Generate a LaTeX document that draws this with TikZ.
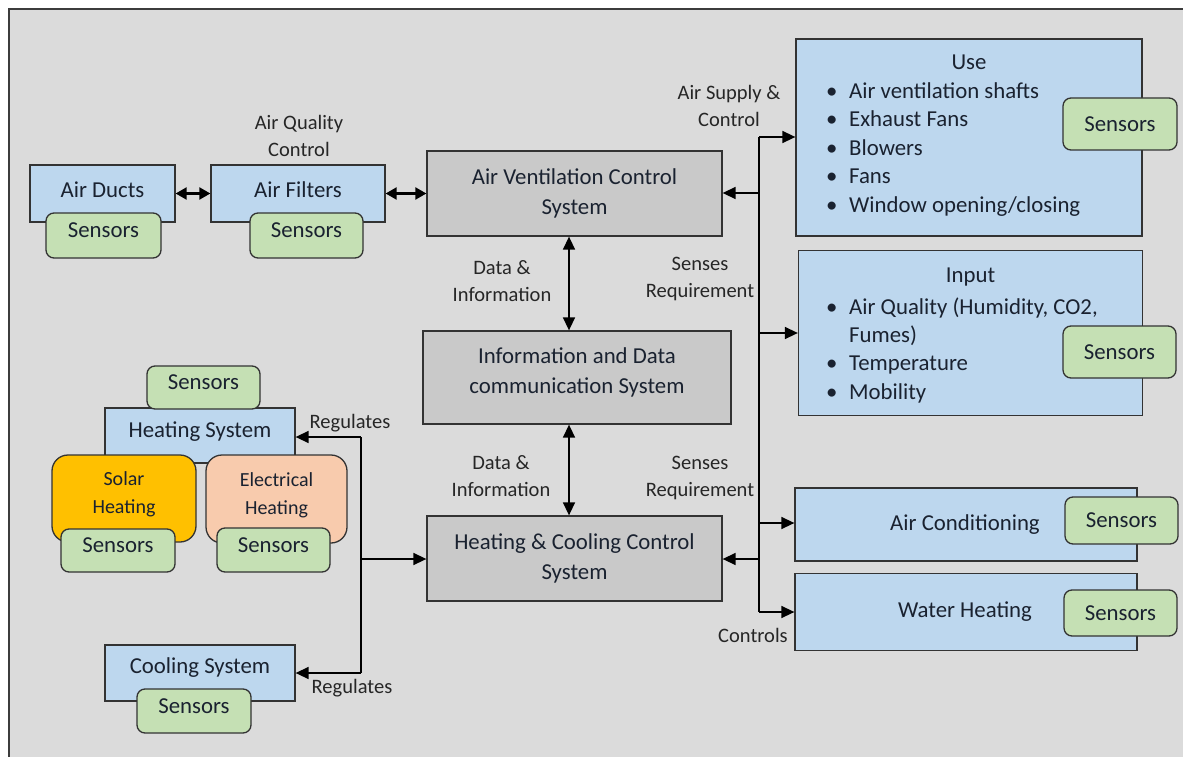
\documentclass[tikz,border=0pt]{standalone}
\usepackage{fontspec}
\setmainfont{Carlito}
\usetikzlibrary{arrows.meta}
\definecolor{bgC}{HTML}{DBDBDB}
\definecolor{frameC}{HTML}{3C3C3C}
\definecolor{lineC}{HTML}{333333}
\definecolor{blueC}{HTML}{BDD7EE}
\definecolor{grayC}{HTML}{C9C9C9}
\definecolor{greenC}{HTML}{C5E0B4}
\definecolor{solarC}{HTML}{FFC000}
\definecolor{elecC}{HTML}{F8CBAD}
\definecolor{txtC}{HTML}{1A2230}
\definecolor{lblC}{HTML}{262626}
\begin{document}
\begin{tikzpicture}[x=1pt,y=-1pt,
  base/.style={draw=lineC, line width=1.3pt, inner sep=0pt, align=center, text=txtC, font=\fontsize{22.8}{30}\selectfont},
  bluebox/.style={base, fill=blueC},
  graybox/.style={base, fill=grayC},
  sens/.style={base, fill=greenC, rounded corners=8pt},
  sensup/.style={sens, text depth=10pt},
  heatbox/.style={base, rounded corners=16pt, font=\fontsize{20}{28}\selectfont},
  txt/.style={inner sep=0pt, align=center, text=txtC, font=\fontsize{22.8}{30}\selectfont},
  bl/.style={inner sep=0pt, anchor=west, text=txtC, font=\fontsize{22.8}{30}\selectfont, text height=15pt, text depth=5pt},
  lbl/.style={inner sep=0pt, align=center, text=lblC, font=\fontsize{20.5}{27}\selectfont},
  conn/.style={line width=1.5pt, draw=black},
  tip/.style={conn, -{Triangle[length=13pt,width=12pt]}},
  dtip/.style={conn, line width=2.2pt, {Triangle[length=11pt,width=12pt]}-{Triangle[length=11pt,width=12pt]}},
  vtip/.style={conn, {Triangle[length=13pt,width=12pt]}-{Triangle[length=13pt,width=12pt]}}
]
\useasboundingbox (0,0) rectangle (1183,757);
\clip (0,0) rectangle (1183,757);
\fill[white] (0,0) rectangle (1183,757);
\draw[draw=frameC, line width=1.3pt, fill=bgC] (9,9) rectangle (1200,780);

% top-left chain
\node[bluebox, minimum width=145pt, minimum height=57pt] (ducts) at (102.5,193.5) {};
\node[txt] (ductsT) at (102.5,190) {Air Ducts};
\node[sensup, minimum width=115pt, minimum height=45pt] (sd) at (103.5,235.5) {Sensors};
\node[bluebox, minimum width=174pt, minimum height=57pt] (filters) at (298,193.5) {};
\node[txt] (filtersT) at (298,190) {Air Filters};
\node[sensup, minimum width=113pt, minimum height=45pt] (sf) at (306.5,235.5) {Sensors};
\node[lbl] (aqc) at (299,136) {Air Quality\\Control};

% central column
\node[graybox, minimum width=295pt, minimum height=85pt] (avcs) at (574.5,193.5) {Air Ventilation Control\\System};
\node[graybox, minimum width=308pt, minimum height=93pt] (idcs) at (577,377.5) {};
\node[txt] (idcsT) at (577,372) {Information and Data\\communication System};
\node[graybox, minimum width=295pt, minimum height=85pt] (hccs) at (574.5,558.5) {Heating \& Cooling Control\\System};

% right column
\node[bluebox, minimum width=346pt, minimum height=197pt] (use) at (969,137.5) {};
\node[txt] (useT) at (969,62) {Use};
\node[bl] (u1) at (826,94) {\makebox[23pt][l]{•}Air ventilation shafts};
\node[bl] (u2) at (826,122) {\makebox[23pt][l]{•}Exhaust Fans};
\node[bl] (u3) at (826,150) {\makebox[23pt][l]{•}Blowers};
\node[bl] (u4) at (826,178) {\makebox[23pt][l]{•}Fans};
\node[bl] (u5) at (826,207) {\makebox[23pt][l]{•}Window opening/closing};
\node[sens, minimum width=114pt, minimum height=52pt] (su) at (1120,124) {Sensors};

\node[bluebox, minimum width=344pt, minimum height=165pt] (input) at (970.5,333) {};
\node[txt] (inputT) at (970.5,277) {Input};
\node[bl] (i1) at (826,309) {\makebox[23pt][l]{•}Air Quality (Humidity, CO2,};
\node[bl] (i2) at (826,337) {\makebox[23pt][l]{}Fumes)};
\node[bl] (i3) at (826,365) {\makebox[23pt][l]{•}Temperature};
\node[bl] (i4) at (826,394) {\makebox[23pt][l]{•}Mobility};
\node[sens, minimum width=113pt, minimum height=52pt] (si) at (1119.5,352) {Sensors};

\node[bluebox, minimum width=342pt, minimum height=73pt] (ac) at (966,524.5) {};
\node[txt] (acT) at (965,525) {Air Conditioning};
\node[sens, minimum width=113pt, minimum height=47pt] (sac) at (1121.5,520.5) {Sensors};
\node[bluebox, minimum width=342pt, minimum height=77pt] (wh) at (966,612) {};
\node[txt] (whT) at (965,612) {Water Heating};
\node[sens, minimum width=113pt, minimum height=46pt] (swh) at (1120.5,613) {Sensors};

% heating / cooling
\node[bluebox, minimum width=190pt, minimum height=55pt] (heat) at (200,435.5) {};
\node[txt] (heatT) at (200,432) {Heating System};
\node[sensup, minimum width=113pt, minimum height=43pt] (sh) at (203.5,387.5) {Sensors};
\node[heatbox, fill=solarC, minimum width=144pt, minimum height=87pt] (solar) at (124,498.5) {};
\node[txt, font=\fontsize{20}{28}\selectfont] (solarT) at (124,494) {Solar\\Heating};
\node[heatbox, fill=elecC, minimum width=141pt, minimum height=88pt] (elec) at (276.5,499) {};
\node[txt, font=\fontsize{20}{28}\selectfont] (elecT) at (276.5,495) {Electrical\\Heating};
\node[sensup, minimum width=114pt, minimum height=43pt] (ss) at (118,550.5) {Sensors};
\node[sensup, minimum width=113pt, minimum height=44pt] (se) at (273.5,550) {Sensors};
\node[bluebox, minimum width=190pt, minimum height=56pt] (cool) at (200,673) {};
\node[txt] (coolT) at (200,668) {Cooling System};
\node[sensup, minimum width=114pt, minimum height=44pt] (sc) at (194,711) {Sensors};

% labels
\node[lbl] (asc) at (729,106) {Air Supply \&\\Control};
\node[lbl] (di1) at (502,281) {Data \&\\Information};
\node[lbl] (di2) at (501,476) {Data \&\\Information};
\node[lbl] (sr1) at (700,279) {Senses\\Requirement};
\node[lbl] (sr2) at (700,478) {Senses\\Requirement};
\node[lbl] (reg1) at (350,423) {Regulates};
\node[lbl] (reg2) at (352,688) {Regulates};
\node[lbl] (ctl) at (753,635) {Controls};

% connectors: left chain
\draw[dtip] (ducts.east) -- (filters.west);
\draw[dtip] (filters.east) -- (avcs.west);

% central vertical
\coordinate (vx) at (569,0);
\draw[vtip] (vx |- avcs.south) -- (vx |- idcs.north);
\draw[vtip] (vx |- idcs.south) -- (vx |- hccs.north);

% right trunk
\coordinate (t1) at (759,137);
\coordinate (t2) at (759,193);
\coordinate (t3) at (759,333);
\coordinate (t4) at (759,523);
\coordinate (t5) at (759,559);
\coordinate (t6) at (759,612);
\draw[conn] (t1) -- (t6);
\draw[tip] (t1) -- (t1 -| use.west);
\draw[tip] (t2) -- (t2 -| avcs.east);
\draw[tip] (t3) -- (t3 -| input.west);
\draw[tip] (t4) -- (t4 -| ac.west);
\draw[tip] (t5) -- (t5 -| hccs.east);
\draw[tip] (t6) -- (t6 -| wh.west);

% left trunk
\coordinate (l1) at (361,437);
\coordinate (l2) at (361,559);
\coordinate (l3) at (361,673);
\draw[conn] (l1) -- (l3);
\draw[tip] (l1) -- (l1 -| heat.east);
\draw[tip] (l2) -- (l2 -| hccs.west);
\draw[tip] (l3) -- (l3 -| cool.east);
\end{tikzpicture}
\end{document}
